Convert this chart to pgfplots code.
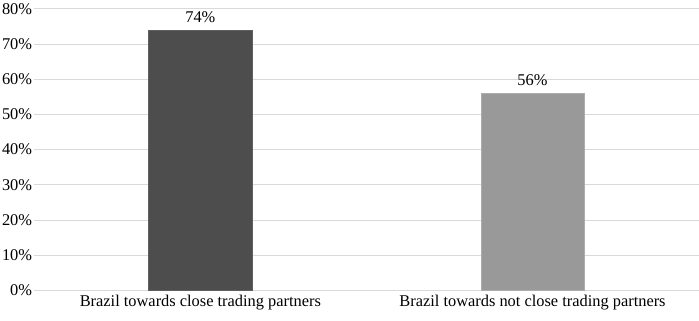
\documentclass[border=0pt]{standalone}
\usepackage{pgfplots}
\pgfplotsset{compat=1.18}
\usepackage{fontspec}
\setmainfont{Liberation Serif}
\definecolor{darkbar}{HTML}{4D4D4D}
\definecolor{lightbar}{HTML}{999999}
\definecolor{gridc}{HTML}{D9D9D9}
\begin{document}
\begin{tikzpicture}
\begin{axis}[
  scale only axis,
  width=661bp, height=280bp,
  xmin=-0.5, xmax=1.5,
  ymin=0, ymax=80,
  ytick={0,10,...,80},
  xtick={0,1},
  xticklabels={Brazil towards close trading partners, Brazil towards not close trading partners},
  yticklabel={\pgfmathprintnumber{\tick}\%},
  /pgf/number format/assume math mode=true,
  ymajorgrids,
  grid style={gridc, line width=0.8bp},
  axis line style={draw=none},
  major tick length=0pt,
  tick label style={font=\fontsize{16.3bp}{18bp}\selectfont, text=black},
  yticklabel style={inner xsep=2bp},
  xticklabel style={yshift=-1bp},
  ybar, bar width=103bp, bar shift=0pt,
  nodes near coords={\pgfmathprintnumber{\pgfplotspointmeta}\%},
  nodes near coords style={font=\fontsize{16.3bp}{18bp}\selectfont, text=black, yshift=4bp},
  clip=false,
]
\addplot[fill=darkbar, draw=darkbar!90!white] coordinates {(0,74)};
\addplot[fill=lightbar, draw=lightbar!80!white] coordinates {(1,56)};
\end{axis}
\useasboundingbox (current bounding box.north west) rectangle ([yshift=-7bp]current bounding box.south east);
\end{tikzpicture}
\end{document}
